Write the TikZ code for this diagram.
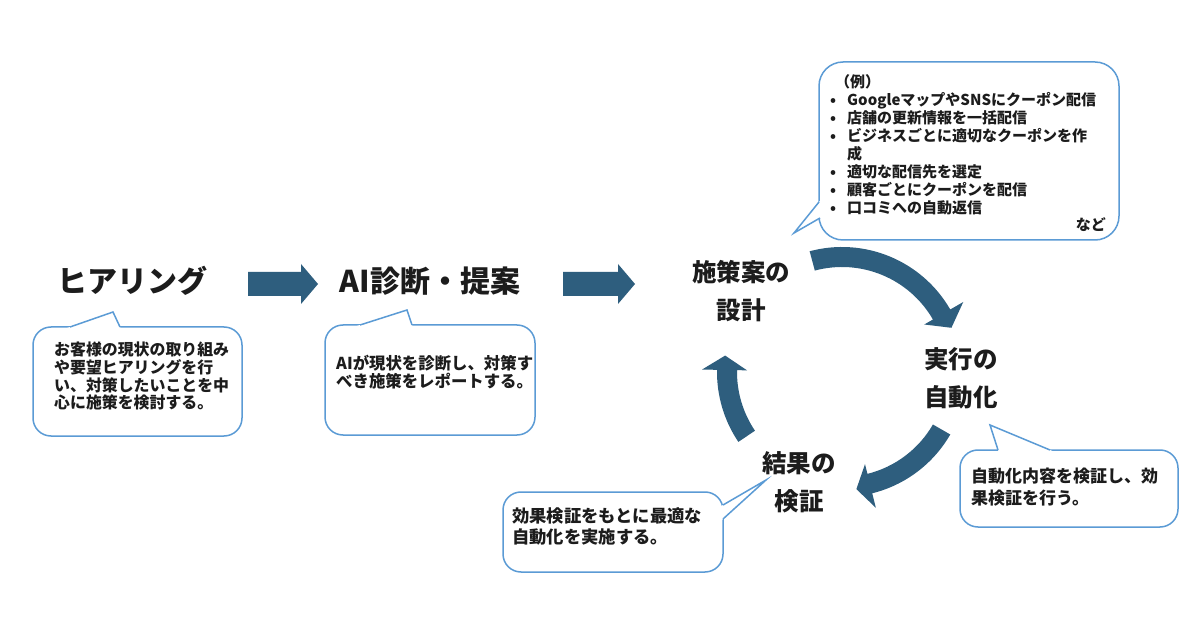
\documentclass[tikz,border=0pt]{standalone}
\usepackage{fontspec}
\setmainfont{Noto Sans CJK JP}
\usetikzlibrary{calc}

\definecolor{flowblue}{HTML}{2E5E7E}
\definecolor{noteblue}{HTML}{5B9BD5}
\definecolor{inkgray}{HTML}{1C1C1C}

\tikzset{
  flow/.style={fill=flowblue},
  notebox/.style={draw=noteblue, line width=1.5pt, fill=white, rounded corners=18pt},
  noteline/.style={draw=noteblue, line width=1.5pt, line join=miter},
  notetext/.style={text=inkgray, align=left, inner sep=0pt, anchor=north west},
  steptitle/.style={text=inkgray, inner sep=0pt, font=\bfseries\fontsize{30}{34}\selectfont},
  cycletitle/.style={text=inkgray, inner sep=0pt, align=center, font=\bfseries\fontsize{24.5}{38}\selectfont}
}

% straight block arrow between two points
\newcommand{\flowarrow}[2]{%
  \fill[flow] ($(#1)+(0,12)$) -- ($(#2)+(-17,12)$) -- ($(#2)+(-17,20)$) -- (#2)
    -- ($(#2)+(-17,-20)$) -- ($(#2)+(-17,-12)$) -- ($(#1)+(0,-12)$) -- cycle;}

% curved block arrow round the hub: start angle, head angle, tip angle
\newcommand{\cyclearrow}[3]{%
  \fill[flow] ([shift={(hub)}]#1:125) arc[start angle=#1, end angle=#2, radius=125]
    -- ([shift={(hub)}]#2:140) -- ([shift={(hub)}]#3:118)
    -- ([shift={(hub)}]#2:95) -- ([shift={(hub)}]#2:105)
    arc[start angle=#2, end angle=#1, radius=105] -- cycle;}

% tail of a speech bubble: base point, tip, base point
\newcommand{\notetail}[3]{%
  \fill[white] ($(#2)!1.15!(#1)$) -- (#2) -- ($(#2)!1.15!(#3)$) -- cycle;
  \draw[noteline] (#1) -- (#2) -- (#3);}

\begin{document}
\begin{tikzpicture}[x=1pt,y=1pt]

  \fill[white] (0,0) rectangle (1200,630);
  \useasboundingbox (0,0) rectangle (1200,630);

  % main flow
  \node[steptitle] (hearing) at (132,349) {ヒアリング};
  \node[steptitle] (aidiag) at (430,349) {AI診断・提案};

  \flowarrow{248,346}{318,346}
  \flowarrow{563,346}{635,346}

  % cycle
  \node[cycletitle] (design) at (741,339) {施策案の\\設計};
  \node[cycletitle] (automate) at (961,252) {実行の\\自動化};
  \node[cycletitle] (verify) at (799,148) {結果の\\検証};

  \coordinate (hub) at (842,258);
  \cyclearrow{105}{30}{22}
  \cyclearrow{-30}{-76}{-83}
  \cyclearrow{214}{179}{172}

  % bubble under hearing
  \draw[notebox] (33,194) rectangle (242,303);
  \notetail{70,303}{113,318}{120,303}
  \node[notetext, font=\bfseries\fontsize{15.9}{17.6}\selectfont] (hearingnote) at (54,288)
    {お客様の現状の取り組み\\や要望ヒアリングを行\\い、対策したいことを中\\心に施策を検討する。};

  % bubble under AI diagnosis
  \draw[notebox] (325,195) rectangle (535,305);
  \notetail{360,305}{407,320}{412,305}
  \node[notetext, font=\bfseries\fontsize{16.4}{18}\selectfont] (aidiagnote) at (336,275)
    {AIが現状を診断し、対策す\\べき施策をレポートする。};

  % bubble with examples
  \draw[notebox, rounded corners=24pt] (819,390) rectangle (1119,568);
  \notetail{819,428}{794,397}{820,412}
  \node[notetext, font=\bfseries\fontsize{15}{18.1}\selectfont] (examples) at (826,556)
    {\hspace*{9pt}（例）\\
     \makebox[14pt][c]{•}\hspace{7pt}GoogleマップやSNSにクーポン配信\\
     \makebox[14pt][c]{•}\hspace{7pt}店舗の更新情報を一括配信\\
     \makebox[14pt][c]{•}\hspace{7pt}ビジネスごとに適切なクーポンを作\\
     \hspace*{21pt}成\\
     \makebox[14pt][c]{•}\hspace{7pt}適切な配信先を選定\\
     \makebox[14pt][c]{•}\hspace{7pt}顧客ごとにクーポンを配信\\
     \makebox[14pt][c]{•}\hspace{7pt}口コミへの自動返信};
  \node[text=inkgray, inner sep=0pt, anchor=east, font=\bfseries\fontsize{15}{18}\selectfont] (etc) at (1106,405) {など};

  % bubble beside verification
  \draw[notebox] (503,58) rectangle (723,138);
  \notetail{723,125}{766,150}{723,111}
  \node[notetext, font=\bfseries\fontsize{17.3}{21}\selectfont] (verifynote) at (512,122)
    {効果検証をもとに最適な\\自動化を実施する。};

  % bubble under automation
  \draw[notebox] (960,103) rectangle (1178,180);
  \notetail{998,180}{990,205}{1050,180}
  \node[notetext, font=\bfseries\fontsize{17}{21.5}\selectfont] (automatenote) at (971,162)
    {自動化内容を検証し、効\\果検証を行う。};

\end{tikzpicture}
\end{document}
